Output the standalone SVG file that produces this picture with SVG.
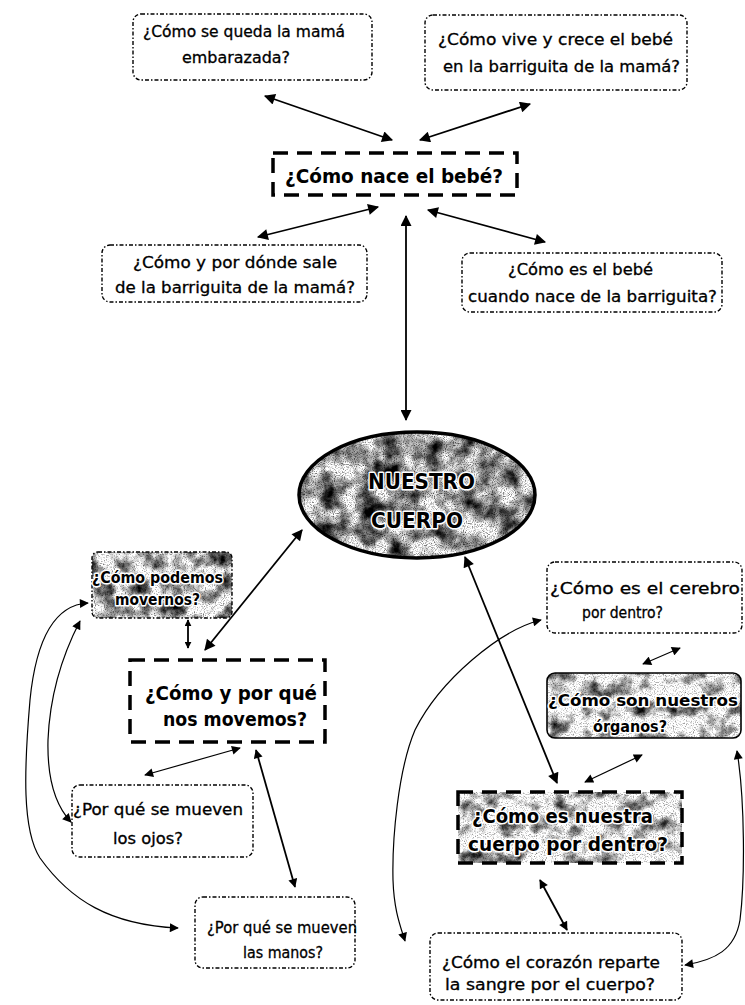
<svg xmlns="http://www.w3.org/2000/svg" width="745" height="1005" viewBox="0 0 745 1005">
<defs>
<style>
.box{fill:#fff;stroke:#000;stroke-width:1.4;stroke-dasharray:4 2 1.5 2}
.edge{fill:none;stroke:#000;stroke-width:1.4;stroke-dasharray:4 2 1.5 2}
.main{fill:none;stroke:#000;stroke-width:3.5;stroke-dasharray:15 9}
.t{font-family:"DejaVu Sans","Liberation Sans",sans-serif;font-size:15px;fill:#000;stroke:#000;stroke-width:0.3px}
.b{font-weight:bold;stroke-width:0}
.halo{paint-order:stroke;stroke:#fff;stroke-width:3px;stroke-linejoin:round}
.ln{fill:none;stroke:#000;stroke-width:1.8}
.cv{fill:none;stroke:#000;stroke-width:1.2}
</style>
<marker id="ah" viewBox="0 0 10 10" refX="9" refY="5" markerWidth="13" markerHeight="11" markerUnits="userSpaceOnUse" orient="auto-start-reverse"><path d="M0,0 L10,5 L0,10 z"/></marker>
<marker id="ahs" viewBox="0 0 10 10" refX="9" refY="5" markerWidth="10" markerHeight="9" markerUnits="userSpaceOnUse" orient="auto-start-reverse"><path d="M0,0 L10,5 L0,10 z"/></marker>
<marker id="aht" viewBox="0 0 10 10" refX="9" refY="5" markerWidth="7" markerHeight="7" markerUnits="userSpaceOnUse" orient="auto-start-reverse"><path d="M0,0 L10,5 L0,10 z"/></marker>
<!-- blotchy grey texture with fine speckle for the highlighted shapes -->
<filter id="grainDark" x="0" y="0" width="100%" height="100%" color-interpolation-filters="sRGB">
<feTurbulence type="fractalNoise" baseFrequency="0.05" numOctaves="4" seed="5" result="n"/>
<feColorMatrix in="n" type="matrix" values="2.2 0 0 0 -0.45  2.2 0 0 0 -0.45  2.2 0 0 0 -0.45  0 0 0 0 1" result="g"/>
<feTurbulence type="fractalNoise" baseFrequency="0.9" numOctaves="1" seed="2" result="f"/>
<feColorMatrix in="f" type="matrix" values="2 0 0 0 -0.05  2 0 0 0 -0.05  2 0 0 0 -0.05  0 0 0 0 1" result="fg"/>
<feBlend in="g" in2="fg" mode="multiply" result="m"/>
<feComposite in="m" in2="SourceGraphic" operator="in"/>
</filter>
<filter id="grainMid" x="0" y="0" width="100%" height="100%" color-interpolation-filters="sRGB">
<feTurbulence type="fractalNoise" baseFrequency="0.06" numOctaves="4" seed="9" result="n"/>
<feColorMatrix in="n" type="matrix" values="2.2 0 0 0 -0.35  2.2 0 0 0 -0.35  2.2 0 0 0 -0.35  0 0 0 0 1" result="g"/>
<feTurbulence type="fractalNoise" baseFrequency="0.9" numOctaves="1" seed="4" result="f"/>
<feColorMatrix in="f" type="matrix" values="1.8 0 0 0 0.1  1.8 0 0 0 0.1  1.8 0 0 0 0.1  0 0 0 0 1" result="fg"/>
<feBlend in="g" in2="fg" mode="multiply" result="m"/>
<feComposite in="m" in2="SourceGraphic" operator="in"/>
</filter>
<filter id="grainLight" x="0" y="0" width="100%" height="100%" color-interpolation-filters="sRGB">
<feTurbulence type="fractalNoise" baseFrequency="0.06" numOctaves="4" seed="11" result="n"/>
<feColorMatrix in="n" type="matrix" values="2.2 0 0 0 -0.2  2.2 0 0 0 -0.2  2.2 0 0 0 -0.2  0 0 0 0 1" result="g"/>
<feTurbulence type="fractalNoise" baseFrequency="0.9" numOctaves="1" seed="6" result="f"/>
<feColorMatrix in="f" type="matrix" values="1.6 0 0 0 0.2  1.6 0 0 0 0.2  1.6 0 0 0 0.2  0 0 0 0 1" result="fg"/>
<feBlend in="g" in2="fg" mode="multiply" result="m"/>
<feComposite in="m" in2="SourceGraphic" operator="in"/>
</filter>
</defs>
<rect width="745" height="1005" fill="#fff"/>

<g id="connectors">
<line class="ln" x1="265" y1="96" x2="392" y2="140" marker-start="url(#ah)" marker-end="url(#ah)"/>
<line class="ln" x1="420" y1="140" x2="530" y2="104" marker-start="url(#ah)" marker-end="url(#ah)"/>
<line class="ln" x1="258" y1="237" x2="378" y2="207" marker-start="url(#ah)" marker-end="url(#ah)"/>
<line class="ln" x1="428" y1="210" x2="545" y2="242" marker-start="url(#ah)" marker-end="url(#ah)"/>
<line class="ln" x1="406" y1="216" x2="406" y2="420" marker-start="url(#ah)" marker-end="url(#ah)"/>
<line class="ln" x1="205" y1="650" x2="302" y2="530" marker-start="url(#ah)" marker-end="url(#ah)"/>
<line class="ln" x1="188" y1="620" x2="188" y2="648" marker-start="url(#aht)" marker-end="url(#aht)"/>
<line class="cv" x1="240" y1="748" x2="145" y2="775" marker-start="url(#ahs)" marker-end="url(#ahs)"/>
<line class="ln" x1="256" y1="750" x2="295" y2="887" marker-start="url(#ahs)" marker-end="url(#ahs)"/>
<line class="ln" x1="465" y1="557" x2="557" y2="783" marker-start="url(#ah)" marker-end="url(#ah)"/>
<line class="cv" x1="680" y1="648" x2="643" y2="664" marker-start="url(#ahs)" marker-end="url(#ahs)"/>
<line class="cv" x1="642" y1="755" x2="585" y2="782" marker-start="url(#ahs)" marker-end="url(#ahs)"/>
<line class="ln" x1="540" y1="880" x2="567" y2="930" marker-start="url(#ahs)" marker-end="url(#ahs)"/>
<path class="cv" d="M88 603 C50 605 35 650 30 700 C24 770 22 830 40 858 C70 900 110 925 178 928" marker-start="url(#ahs)" marker-end="url(#ahs)"/>
<path class="cv" d="M80 621 C65 650 50 690 48 740 C47 780 55 805 71 822" marker-start="url(#ahs)" marker-end="url(#ahs)"/>
<path class="cv" d="M541 620 C500 630 440 680 415 730 C398 770 392 840 393 880 C394 910 400 925 405 941" marker-start="url(#ahs)" marker-end="url(#ahs)"/>
<path class="cv" d="M737 751 C745 800 745 880 740 920 C735 950 715 960 685 965" marker-start="url(#ahs)" marker-end="url(#ahs)"/>
</g>

<g id="n-embarazada">
<rect class="box" x="133" y="14" width="239" height="66" rx="8"/>
<text class="t" x="143" y="37" textLength="202" lengthAdjust="spacingAndGlyphs">¿Cómo se queda la mamá</text>
<text class="t" x="182" y="63" textLength="108" lengthAdjust="spacingAndGlyphs">embarazada?</text>
</g>

<g id="n-crece">
<rect class="box" x="425" y="15" width="262" height="75" rx="8"/>
<text class="t" x="438" y="45" textLength="235" lengthAdjust="spacingAndGlyphs">¿Cómo vive y crece el bebé</text>
<text class="t" x="443" y="72" textLength="237" lengthAdjust="spacingAndGlyphs">en la barriguita de la mamá?</text>
</g>

<g id="n-nace">
<rect x="273" y="153" width="244" height="42" fill="#fff"/>
<rect class="main" x="273" y="153" width="244" height="42"/>
<text class="t b" x="285" y="183" textLength="218" lengthAdjust="spacingAndGlyphs" style="font-size:19px">¿Cómo nace el bebé?</text>
</g>

<g id="n-sale">
<rect class="box" x="102" y="245" width="265" height="57" rx="8"/>
<text class="t" x="133" y="268" textLength="204" lengthAdjust="spacingAndGlyphs">¿Cómo y por dónde sale</text>
<text class="t" x="115" y="293" textLength="240" lengthAdjust="spacingAndGlyphs">de la barriguita de la mamá?</text>
</g>

<g id="n-bebe">
<rect class="box" x="462" y="253" width="260" height="59" rx="8"/>
<text class="t" x="508" y="275" textLength="145" lengthAdjust="spacingAndGlyphs">¿Cómo es el bebé</text>
<text class="t" x="468" y="302" textLength="249" lengthAdjust="spacingAndGlyphs">cuando nace de la barriguita?</text>
</g>

<g id="n-cuerpo">
<ellipse cx="417" cy="495" rx="118" ry="63" fill="#888" filter="url(#grainDark)"/>
<ellipse cx="417" cy="495" rx="118" ry="63" fill="none" stroke="#000" stroke-width="3.5"/>
<text class="t b halo" x="368" y="489" textLength="107" lengthAdjust="spacingAndGlyphs" style="font-size:22px">NUESTRO</text>
<text class="t b halo" x="371" y="528" textLength="92" lengthAdjust="spacingAndGlyphs" style="font-size:22px">CUERPO</text>
</g>

<g id="n-podemos">
<rect x="92" y="552" width="140" height="66" rx="6" fill="#aaa" filter="url(#grainMid)"/>
<rect class="edge" x="92" y="552" width="140" height="66" rx="6"/>
<text class="t b halo" x="92" y="583" textLength="131" lengthAdjust="spacingAndGlyphs" style="font-size:16px">¿Cómo podemos</text>
<text class="t b halo" x="115" y="605" textLength="85" lengthAdjust="spacingAndGlyphs" style="font-size:16px">movernos?</text>
</g>

<g id="n-movemos">
<rect x="130" y="660" width="195" height="82" fill="#fff"/>
<rect class="main" x="130" y="660" width="195" height="82"/>
<text class="t b" x="145" y="700" textLength="172" lengthAdjust="spacingAndGlyphs" style="font-size:20px">¿Cómo y por qué</text>
<text class="t b" x="163" y="726" textLength="144" lengthAdjust="spacingAndGlyphs" style="font-size:20px">nos movemos?</text>
</g>

<g id="n-ojos">
<rect class="box" x="72" y="785" width="181" height="72" rx="8"/>
<text class="t" x="73" y="815" textLength="170" lengthAdjust="spacingAndGlyphs">¿Por qué se mueven</text>
<text class="t" x="113" y="844" textLength="70" lengthAdjust="spacingAndGlyphs">los ojos?</text>
</g>

<g id="n-manos">
<rect class="box" x="195" y="897" width="160" height="71" rx="8"/>
<text class="t" x="207" y="933" textLength="150" lengthAdjust="spacingAndGlyphs">¿Por qué se mueven</text>
<text class="t" x="243" y="958" textLength="80" lengthAdjust="spacingAndGlyphs">las manos?</text>
</g>

<g id="n-cerebro">
<rect class="box" x="547" y="562" width="195" height="71" rx="8"/>
<text class="t" x="550" y="594" textLength="190" lengthAdjust="spacingAndGlyphs">¿Cómo es el cerebro</text>
<text class="t" x="582" y="618" textLength="81" lengthAdjust="spacingAndGlyphs">por dentro?</text>
</g>

<g id="n-organos">
<rect x="547" y="673" width="194" height="65" rx="8" fill="#bbb" filter="url(#grainLight)"/>
<rect x="547" y="673" width="194" height="65" rx="8" fill="none" stroke="#000" stroke-width="1.6"/>
<text class="t b halo" x="548" y="706" textLength="190" lengthAdjust="spacingAndGlyphs">¿Cómo son nuestros</text>
<text class="t b halo" x="593" y="732" textLength="74" lengthAdjust="spacingAndGlyphs">órganos?</text>
</g>

<g id="n-dentro">
<rect x="458" y="792" width="224" height="71" fill="#aaa" filter="url(#grainLight)"/>
<rect class="main" x="458" y="792" width="224" height="71"/>
<text class="t b halo" x="472" y="823" textLength="181" lengthAdjust="spacingAndGlyphs" style="font-size:19px">¿Cómo es nuestra</text>
<text class="t b halo" x="468" y="851" textLength="200" lengthAdjust="spacingAndGlyphs" style="font-size:19px">cuerpo por dentro?</text>
</g>

<g id="n-corazon">
<rect class="box" x="430" y="933" width="252" height="67" rx="8"/>
<text class="t" x="442" y="968" textLength="218" lengthAdjust="spacingAndGlyphs">¿Cómo el corazón reparte</text>
<text class="t" x="445" y="990" textLength="210" lengthAdjust="spacingAndGlyphs">la sangre por el cuerpo?</text>
</g>
</svg>
